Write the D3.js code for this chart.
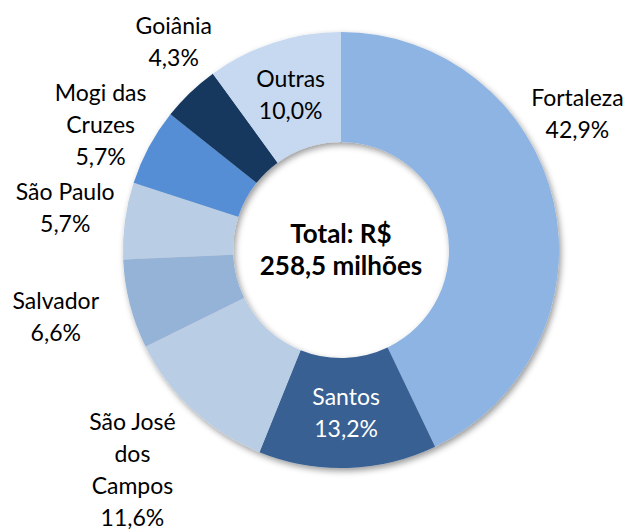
<!DOCTYPE html>
<html lang="pt">
<head>
  <meta charset="UTF-8" />
  <title>Distribuição por cidade</title>
  <script src="https://d3js.org/d3.v7.min.js"></script>
  <style>
    body {
      margin: 0;
      background: #fff;
      font-family: 'Lato', 'Open Sans', sans-serif;
    }
    .lbl {
      font-size: 23px;
      fill: #000;
      text-anchor: middle;
    }
    .total {
      font-size: 26px;
      font-weight: bold;
      text-anchor: middle;
    }
  </style>
</head>
<body>
  <div id="chart"></div>

  <script>
    // Data (clockwise from 12 o'clock)
    const cities = ["Fortaleza", "Santos", "São José dos Campos", "Salvador",
                    "São Paulo", "Mogi das Cruzes", "Goiânia", "Outras"];
    const shares = [42.9, 13.2, 11.6, 6.6, 5.7, 5.7, 4.3, 10.0];
    const labelLines = [
      ["Fortaleza"], ["Santos"], ["São José", "dos", "Campos"], ["Salvador"],
      ["São Paulo"], ["Mogi das", "Cruzes"], ["Goiânia"], ["Outras"]
    ];
    const totalLines = ["Total: R$", "258,5 milhões"];

    const colors = ["#8eb4e3", "#376092", "#b9cde5", "#95b3d7",
                    "#b9cde5", "#558ed5", "#17375e", "#c6d9f1"];

    const width = 630, height = 531;
    const cx = 341, cy = 250;
    const outerR = 218, innerR = 108;
    const lineH = 32;

    // label placement: inside = on ring centroid, otherwise polar [angle deg, radius]
    const labelPlace = [
      { polar: [60, 273] },
      { inside: true, white: true },
      { polar: [223.5, 303] },
      { polar: [256.8, 293] },
      { polar: [278.7, 279] },
      { polar: [297.5, 271] },
      { polar: [321.2, 267] },
      { inside: true }
    ];

    const svg = d3.select("#chart").append("svg")
      .attr("width", width)
      .attr("height", height);

    const defs = svg.append("defs");
    defs.append("filter")
      .attr("id", "shadow")
      .attr("x", "-20%").attr("y", "-20%")
      .attr("width", "140%").attr("height", "140%")
      .append("feDropShadow")
      .attr("dx", 2).attr("dy", 3)
      .attr("stdDeviation", 3)
      .attr("flood-color", "#000")
      .attr("flood-opacity", 0.4);

    const g = svg.append("g")
      .attr("transform", `translate(${cx},${cy})`);

    const pie = d3.pie().sort(null).value(d => d);
    const arcs = pie(shares);

    const arc = d3.arc().innerRadius(innerR).outerRadius(outerR);

    g.append("g")
      .attr("filter", "url(#shadow)")
      .selectAll("path")
      .data(arcs)
      .enter()
      .append("path")
      .attr("d", arc)
      .attr("fill", (d, i) => colors[i]);

    const fmt = v => v.toFixed(1).replace(".", ",") + "%";

    arcs.forEach((d, i) => {
      const p = labelPlace[i];
      let x, y;
      if (p.inside) {
        [x, y] = arc.centroid(d);
      } else {
        const a = p.polar[0] * Math.PI / 180;
        x = Math.sin(a) * p.polar[1];
        y = -Math.cos(a) * p.polar[1];
      }
      const lines = labelLines[i].concat([fmt(shares[i])]);
      const t = g.append("text")
        .attr("class", "lbl")
        .style("fill", p.white ? "#fff" : "#000");
      lines.forEach((s, k) => {
        t.append("tspan")
          .attr("x", x)
          .attr("y", y + (k - (lines.length - 1) / 2) * lineH)
          .attr("dy", "0.35em")
          .text(s);
      });
    });

    // centre text
    const tt = g.append("text").attr("class", "total");
    totalLines.forEach((s, k) => {
      tt.append("tspan")
        .attr("x", 0)
        .attr("y", (k - 0.5) * lineH)
        .attr("dy", "0.35em")
        .text(s);
    });
  </script>
</body>
</html>
